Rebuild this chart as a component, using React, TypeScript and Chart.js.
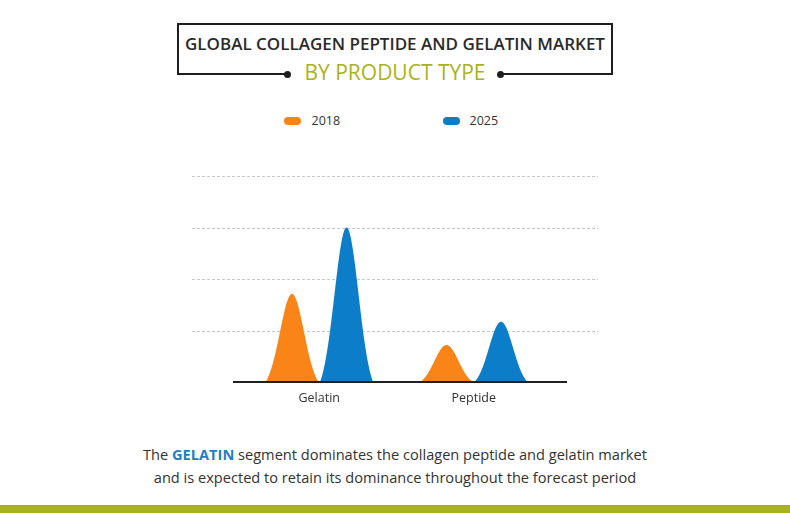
import React, { useEffect, useRef } from 'react';
import { Chart, registerables } from 'chart.js';

Chart.register(...registerables);

// ---- data ----
const categories = ['Gelatin', 'Peptide'];
const seriesNames = ['2018', '2025'];
const values2018 = [1.71, 0.72];
const values2025 = [3.0, 1.17];
const yMax = 4;
const yStep = 1;
const seriesColors = ['#fa8418', '#0c7dc8'];

const FONT = '"Open Sans", "DejaVu Sans", sans-serif';

// draws each bar element as a bell-shaped peak
const bellPlugin = {
  id: 'bellPeaks',
  beforeDatasetDraw(chart: any, args: any) {
    const ctx = chart.ctx;
    const meta = args.meta;
    const ds = chart.data.datasets[args.index];
    ctx.save();
    ctx.fillStyle = ds.backgroundColor;
    const k = 2.2;
    const e1 = Math.exp(-(k * k) / 2);
    meta.data.forEach((el: any) => {
      const { x, y, base, width } = el.getProps(['x', 'y', 'base', 'width'], true);
      const h = base - y;
      const n = 80;
      ctx.beginPath();
      ctx.moveTo(x - width / 2, base);
      for (let i = 0; i <= n; i++) {
        const t = -1 + (2 * i) / n;
        const f = (Math.exp(-((k * t) * (k * t)) / 2) - e1) / (1 - e1);
        ctx.lineTo(x + (t * width) / 2, base - h * f);
      }
      ctx.lineTo(x + width / 2, base);
      ctx.closePath();
      ctx.fill();
    });
    ctx.restore();
    return false;
  },
};

// dashed horizontal guides and the solid baseline, extending past the plot area
const guidesPlugin = {
  id: 'guides',
  beforeDatasetsDraw(chart: any) {
    const ctx = chart.ctx;
    const ys = chart.scales.y;
    const area = chart.chartArea;
    ctx.save();
    ctx.strokeStyle = '#c8c8c8';
    ctx.lineWidth = 1;
    ctx.setLineDash([3, 2]);
    ys.ticks.forEach((t: any) => {
      if (t.value === 0) return;
      const py = Math.round(ys.getPixelForValue(t.value)) + 0.5;
      ctx.beginPath();
      ctx.moveTo(area.left - 50, py);
      ctx.lineTo(area.right + 47, py);
      ctx.stroke();
    });
    ctx.restore();
  },
  afterDatasetsDraw(chart: any) {
    const ctx = chart.ctx;
    const ys = chart.scales.y;
    const area = chart.chartArea;
    const py = ys.getPixelForValue(0);
    ctx.save();
    ctx.strokeStyle = '#1f1f1f';
    ctx.lineWidth = 2;
    ctx.beginPath();
    ctx.moveTo(area.left - 9, py);
    ctx.lineTo(area.right + 16, py);
    ctx.stroke();
    ctx.restore();
  },
};

function PeakChart() {
  const ref = useRef<HTMLCanvasElement>(null);
  useEffect(() => {
    if (!ref.current) return;
    const chart = new Chart(ref.current, {
      type: 'bar',
      data: {
        labels: categories,
        datasets: [
          { label: seriesNames[0], data: values2018, backgroundColor: seriesColors[0] },
          { label: seriesNames[1], data: values2025, backgroundColor: seriesColors[1] },
        ],
      },
      options: {
        animation: false,
        responsive: false,
        maintainAspectRatio: false,
        devicePixelRatio: 1,
        categoryPercentage: 0.706,
        barPercentage: 0.97,
        layout: { padding: { left: 92, right: 89, top: 26, bottom: 8 } },
        plugins: { legend: { display: false }, tooltip: { enabled: false } },
        scales: {
          x: {
            grid: { display: false, drawTicks: false },
            border: { display: false },
            ticks: { color: '#333', font: { family: FONT, size: 12.5 }, padding: 9 },
            afterFit: (s: any) => { s.height = 30; },
          },
          y: {
            min: 0,
            max: yMax,
            ticks: { stepSize: yStep, display: false },
            grid: { display: false, drawTicks: false },
            border: { display: false },
            afterFit: (s: any) => { s.width = 0; },
          },
        },
      } as any,
      plugins: [guidesPlugin, bellPlugin],
    });
    return () => chart.destroy();
  }, []);
  return <canvas ref={ref} width={490} height={270} style={{ position: 'absolute', left: 150, top: 150, width: 490, height: 270 }} />;
}

export default function App() {
  const line = '#1e1e1e';
  const olive = '#a8b31b';
  return (
    <div style={{ position: 'fixed', left: 0, top: 0, width: 790, height: 513, background: '#fff', overflow: 'hidden', fontFamily: FONT }}>
      {/* title frame */}
      <div style={{ position: 'absolute', left: 177, top: 23, width: 436, height: 51, boxSizing: 'border-box', borderTop: `2px solid ${line}`, borderLeft: `2px solid ${line}`, borderRight: `2px solid ${line}` }} />
      <div style={{ position: 'absolute', left: 177, top: 73, width: 110, height: 2, background: line }} />
      <div style={{ position: 'absolute', left: 283.5, top: 70.5, width: 7, height: 7, borderRadius: '50%', background: line }} />
      <div style={{ position: 'absolute', left: 496.5, top: 70.5, width: 7, height: 7, borderRadius: '50%', background: line }} />
      <div style={{ position: 'absolute', left: 500, top: 73, width: 113, height: 2, background: line }} />
      <div style={{ position: 'absolute', left: 0, width: 790, top: 35, textAlign: 'center', fontSize: 17, lineHeight: '17px', fontWeight: 600, color: '#2a2a2a', whiteSpace: 'nowrap' }}>
        GLOBAL COLLAGEN PEPTIDE AND GELATIN MARKET
      </div>
      <div style={{ position: 'absolute', left: 0, width: 790, top: 61.5, textAlign: 'center', fontSize: 21, lineHeight: '21px', fontWeight: 500, color: olive, whiteSpace: 'nowrap' }}>
        BY PRODUCT TYPE
      </div>

      {/* legend */}
      {seriesNames.map((name, i) => (
        <React.Fragment key={name}>
          <div style={{ position: 'absolute', left: i === 0 ? 283.5 : 442.5, top: 117, width: 17, height: 8, borderRadius: 4, background: seriesColors[i] }} />
          <div style={{ position: 'absolute', left: i === 0 ? 311.5 : 469.5, top: 113.6, fontSize: 12.5, lineHeight: '13px', color: '#333', whiteSpace: 'nowrap' }}>{name}</div>
        </React.Fragment>
      ))}

      <PeakChart />

      {/* caption */}
      <div style={{ position: 'absolute', left: 0, width: 790, top: 442.5, textAlign: 'center', fontSize: 14.6, lineHeight: '23px', color: '#333', whiteSpace: 'nowrap' }}>
        <div>The <span style={{ color: '#1a80c8', fontWeight: 700 }}>GELATIN</span> segment dominates the collagen peptide and gelatin market</div>
        <div>and is expected to retain its dominance throughout the forecast period</div>
      </div>

      <div style={{ position: 'absolute', left: 0, top: 505, width: 790, height: 8, background: olive }} />
    </div>
  );
}
